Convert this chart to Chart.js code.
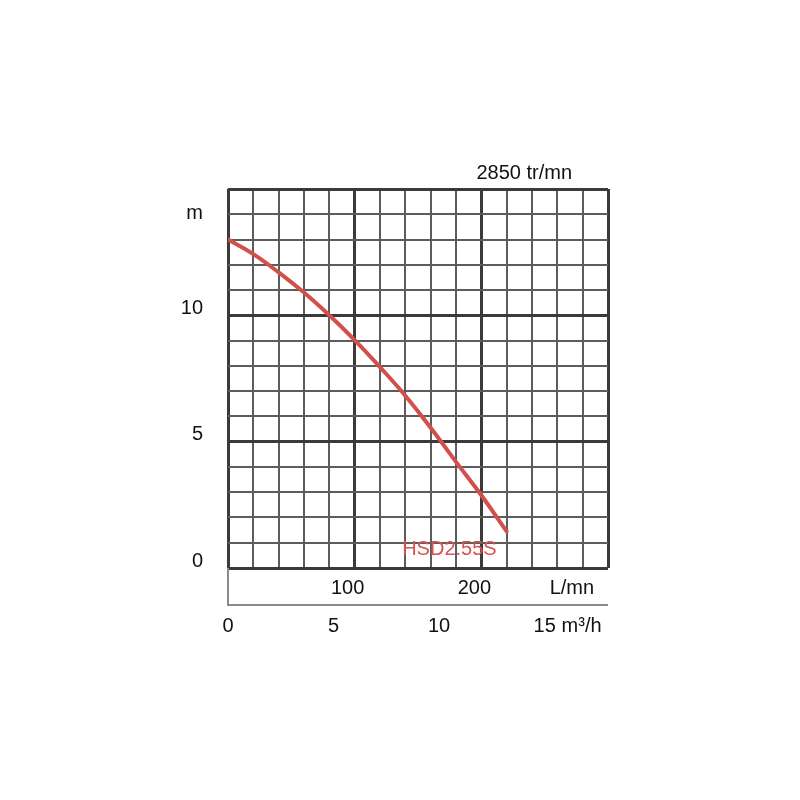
<!DOCTYPE html>
<html>
<head>
<meta charset="utf-8">
<script src="https://cdn.jsdelivr.net/npm/chart.js@4.4.1/dist/chart.umd.min.js"></script>
<style>
  html, body { margin: 0; padding: 0; background: #fff; }
</style>
</head>
<body>
<canvas id="courbe" width="800" height="800"></canvas>
<script>
// Courbe pompe HSD2.55S - hauteur (m) en fonction du debit (L/mn)
var nomPompe = 'HSD2.55S';
var vitesse = '2850 tr/mn';
var debitLmn = [0, 20, 40, 60, 80, 100, 120, 140, 160, 180, 200, 220];
var hauteurM = [13.0, 12.42, 11.7, 10.9, 10.0, 9.02, 7.95, 6.82, 5.55, 4.2, 2.88, 1.45];

// graduations
var yTickValues = [0, 5, 10, 13.75];
var yTickLabels = ['0', '5', '10', 'm'];
var lmnTickValues = [100, 200, 277];
var lmnTickLabels = ['100', '200', 'L/mn'];
var m3hTickValues = [0, 5, 10, 15, 16.75];
var m3hTickLabels = ['0', '5', '10', '15', 'm\u00b3/h'];

var police = '"Liberation Sans", Arial, sans-serif';

function lineColor(major) { return major ? '#3a3a3a' : '#5c5c5c'; }
function lineWidth(major) { return major ? 3 : 2; }

function fixedTicks(values) {
  return function (s) {
    s.ticks = values.map(function (v) { return {value: v}; });
  };
}

// textes en plus + bande sous la grille
var annotations = {
  id: 'annotations',
  afterDatasetsDraw: function (chart) {
    var c = chart.ctx;
    var area = chart.chartArea;
    var pts = chart.getDatasetMeta(0).data;
    var last = pts[pts.length - 1];
    var xl = chart.scales.xl;
    c.save();
    c.font = '20px ' + police;
    c.textAlign = 'right';
    c.textBaseline = 'middle';
    c.fillStyle = '#d9534f';
    c.fillText(nomPompe, last.x - 10, last.y + 18);
    c.fillStyle = '#111';
    c.fillText(vitesse, area.right - 36, area.top - 16);

    c.strokeStyle = '#8a8a8a';
    c.lineWidth = 2;
    c.beginPath();
    c.moveTo(area.left, area.bottom);
    c.lineTo(area.left, xl.bottom);
    c.lineTo(area.right, xl.bottom);
    c.stroke();
    c.restore();
  }
};

var courbe = document.getElementById('courbe').getContext('2d');
var chart = new Chart(courbe, {
  type: 'line',
  data: {
    datasets: [{
      label: nomPompe,
      data: debitLmn.map(function (q, i) { return {x: q, y: hauteurM[i]}; }),
      borderColor: '#d2504c',
      borderWidth: 4,
      borderCapStyle: 'round',
      borderJoinStyle: 'round',
      pointRadius: 0,
      tension: 0.4,
      fill: false
    }]
  },
  plugins: [annotations],
  options: {
    responsive: false,
    animation: false,
    layout: { padding: { left: 0, right: 192, top: 189, bottom: 155 } },
    plugins: {
      legend: { display: false },
      tooltip: { enabled: false }
    },
    scales: {
      x: {
        type: 'linear',
        position: 'bottom',
        weight: 0,
        min: 0,
        max: 300,
        ticks: { stepSize: 20, display: false, autoSkip: false },
        grid: {
          drawTicks: false,
          color: function (ctx) { return lineColor(ctx.tick && ctx.tick.value % 100 === 0); },
          lineWidth: function (ctx) { return lineWidth(ctx.tick && ctx.tick.value % 100 === 0); }
        },
        border: { display: false },
        afterFit: function (s) { s.height = 0; }
      },
      xl: {
        type: 'linear',
        position: 'bottom',
        weight: 1,
        min: 0,
        max: 300,
        afterBuildTicks: fixedTicks(lmnTickValues),
        ticks: {
          autoSkip: false,
          maxRotation: 0,
          padding: 8,
          labelOffset: -7,
          color: '#111',
          font: { family: police, size: 20 },
          callback: function (v, i) { return lmnTickLabels[i]; }
        },
        grid: { display: false, drawTicks: false },
        border: { display: false },
        afterFit: function (s) { s.height = 37; }
      },
      xm: {
        type: 'linear',
        position: 'bottom',
        weight: 2,
        min: 0,
        max: 18,
        afterBuildTicks: fixedTicks(m3hTickValues),
        ticks: {
          autoSkip: false,
          maxRotation: 0,
          padding: 9,
          color: '#111',
          font: { family: police, size: 20 },
          callback: function (v, i) { return m3hTickLabels[i]; }
        },
        grid: { display: false, drawTicks: false },
        border: { display: false },
        afterFit: function (s) { s.height = 40; }
      },
      y: {
        type: 'linear',
        position: 'left',
        weight: 0,
        min: 0,
        max: 15,
        ticks: { stepSize: 1, display: false, autoSkip: false },
        grid: {
          drawTicks: false,
          color: function (ctx) { return lineColor(ctx.tick && ctx.tick.value % 5 === 0); },
          lineWidth: function (ctx) { return lineWidth(ctx.tick && ctx.tick.value % 5 === 0); }
        },
        border: { display: false },
        afterFit: function (s) { s.width = 0; }
      },
      yl: {
        type: 'linear',
        position: 'left',
        weight: 1,
        min: 0,
        max: 15,
        afterBuildTicks: fixedTicks(yTickValues),
        ticks: {
          autoSkip: false,
          padding: 25,
          labelOffset: -7,
          color: '#111',
          font: { family: police, size: 20 },
          callback: function (v, i) { return yTickLabels[i]; }
        },
        grid: { display: false, drawTicks: false },
        border: { display: false },
        afterFit: function (s) { s.width = 228; }
      }
    }
  }
});
</script>
</body>
</html>
